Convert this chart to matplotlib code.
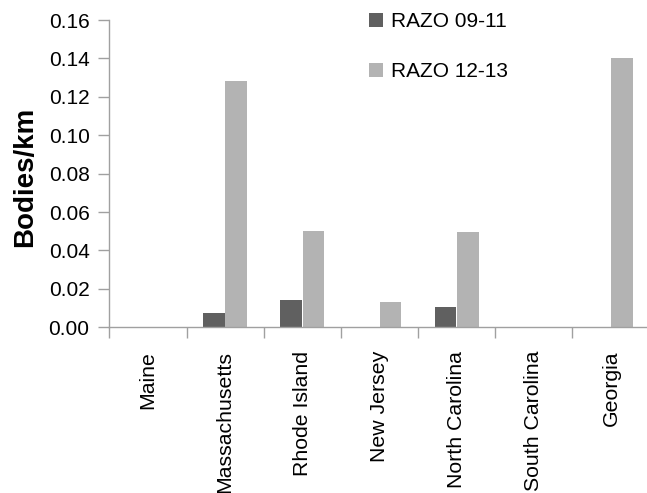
import matplotlib
matplotlib.use("Agg")
import matplotlib.pyplot as plt
import numpy as np

states = ["Maine", "Massachusetts", "Rhode Island", "New Jersey",
          "North Carolina", "South Carolina", "Georgia"]
razo_09_11 = [0.0, 0.0073, 0.0141, 0.0, 0.0105, 0.0, 0.0]
razo_12_13 = [0.0, 0.128, 0.0503, 0.0131, 0.0494, 0.0, 0.140]
series_labels = ["RAZO 09-11", "RAZO 12-13"]
yticks = [0.00, 0.02, 0.04, 0.06, 0.08, 0.10, 0.12, 0.14, 0.16]

plt.rcParams['font.family'] = ['Liberation Sans', 'DejaVu Sans']

W, H = 647, 493
fig = plt.figure(figsize=(W / 100, H / 100), dpi=100)
ax = fig.add_axes([109.3 / W, 1 - 327.3 / H, 540.4 / W, (327.3 - 20) / H])

x = np.arange(len(states))
bw = 0.28
off = 0.144
dark = "#606060"
light = "#b3b3b3"
b1 = ax.bar(x - off, razo_09_11, bw, color=dark, label=series_labels[0])
b2 = ax.bar(x + off, razo_12_13, bw, color=light, label=series_labels[1])

ax.set_xlim(-0.5, len(states) - 0.5)
ax.set_ylim(0, 0.16)
ax.set_yticks(yticks)
ax.set_yticklabels([f"{v:.2f}" for v in yticks])

ax.set_xticks(x)
ax.set_xticklabels(states, rotation=90)
ax.set_xticks(np.arange(-0.5, len(states), 1.0), minor=True)

spine_c = "#a0a0a0"
for s in ["top", "right"]:
    ax.spines[s].set_visible(False)
for s in ["left", "bottom"]:
    ax.spines[s].set_color(spine_c)
    ax.spines[s].set_linewidth(1.0)

fs = 15.0
ax.tick_params(axis='x', which='major', length=0, pad=17.0, labelsize=15.3, colors='black')
ax.tick_params(axis='x', which='minor', length=8, width=1.0, color=spine_c)
ax.tick_params(axis='y', length=8, width=1.0, color=spine_c, pad=6.2, labelsize=fs, labelcolor='black')

fig.text(25 / W, 1 - 177 / H, "Bodies/km", rotation=90, ha='center', va='center',
         fontsize=20, fontweight='bold')

leg = ax.legend(handles=[b1, b2], loc='center left',
                bbox_to_anchor=(369 / W, 1 - 46.7 / H), bbox_transform=fig.transFigure,
                frameon=False, fontsize=fs, handlelength=0.68, handleheight=0.68,
                handletextpad=0.36, labelspacing=1.48, borderpad=0, borderaxespad=0)

fig.savefig("out.png", dpi=100)
